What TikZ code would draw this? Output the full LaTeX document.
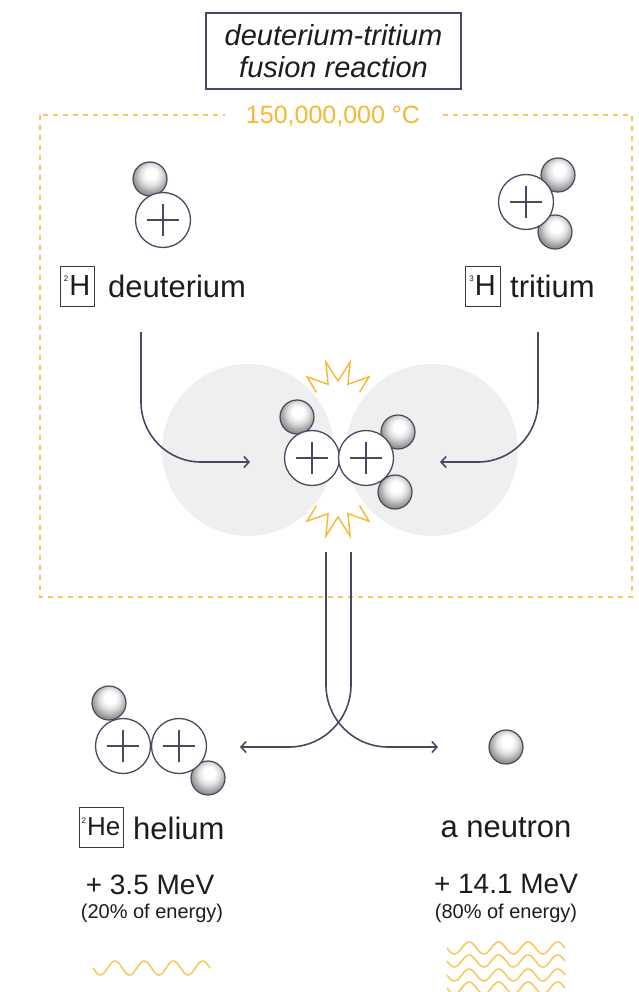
\documentclass[tikz,border=0pt]{standalone}
\usepackage{fontspec}
\setmainfont{Liberation Sans}
\usetikzlibrary{arrows.meta}

\definecolor{ink}{HTML}{454A5F}
\definecolor{boxline}{HTML}{3A3A3A}
\definecolor{heat}{HTML}{F7B733}
\definecolor{heatlight}{HTML}{F9C65A}
\definecolor{halo}{HTML}{EFEFEF}
\definecolor{txt}{HTML}{1C1C1C}

% shaded neutron: white cap towards the top, grey towards the bottom
\pgfdeclareradialshading{neutronball}{\pgfpoint{2bp}{9bp}}{%
  color(0bp)=(white); color(8bp)=(white); color(16bp)=(black!13);
  color(26bp)=(black!42); color(34bp)=(black!52); color(50bp)=(black!52)}

\tikzset{
  proton/.style={circle, draw=ink, line width=1.3pt, fill=white,
    minimum size=55pt, inner sep=0pt,
    path picture={\draw[ink, line width=1.1pt]
      ([xshift=-16pt]path picture bounding box.center) -- ([xshift=16pt]path picture bounding box.center)
      ([yshift=-16pt]path picture bounding box.center) -- ([yshift=16pt]path picture bounding box.center);}},
  neutron/.style={circle, draw=ink, line width=1.2pt, shade, shading=neutronball,
    minimum size=34pt, inner sep=0pt},
  flow/.style={draw=ink, line width=1.6pt, -{Straight Barb[length=5pt,width=11pt]}},
  frame/.style={draw=heatlight, line width=1.5pt, dash pattern=on 5pt off 5pt},
  burst/.style={draw=heat, line width=1.4pt, line join=miter},
  wave/.style={draw=heatlight, line width=1.5pt},
  elembox/.style={draw=boxline, line width=1pt, minimum height=40pt, inner sep=0pt,
    text=txt, font=\fontsize{29}{30}\selectfont},
  partname/.style={anchor=base west, text=txt, inner sep=0pt, font=\fontsize{31}{36}\selectfont},
  energy/.style={anchor=base, text=txt, inner sep=0pt, font=\fontsize{28}{32}\selectfont},
  share/.style={anchor=base, text=txt, inner sep=0pt, font=\fontsize{20}{24}\selectfont},
}

\begin{document}
\begin{tikzpicture}[x=1pt, y=-1pt]
\useasboundingbox (0,0) rectangle (639,992);

% title
\node[draw=ink, line width=1.4pt, minimum width=255pt, minimum height=76pt,
      align=center, text=txt, font=\fontsize{29}{32}\selectfont\itshape]
      (title) at (333.5,51) {deuterium-tritium\\fusion reaction};

% hot zone with its temperature
\draw[frame] (40,115) rectangle (632,597);
\node[anchor=base, fill=white, text=heat, inner xsep=21pt, inner ysep=3pt,
      font=\fontsize{25}{28}\selectfont] (temp) at (333,124) {150,000,000 °C};

% deuterium
\node[neutron] (dn) at (150,179) {};
\node[proton]  (dp) at (163,220) {};
\node[elembox, minimum width=34pt] (dbox) at (77,286)
  {\raisebox{14pt}{\fontsize{8}{8}\selectfont 2}\kern1pt H};
\node[partname] (dname) at (108,297) {deuterium};

% tritium
\node[neutron] (tn1) at (558,175) {};
\node[neutron] (tn2) at (555,232) {};
\node[proton]  (tp)  at (526,202) {};
\node[elembox, minimum width=35pt] (tbox) at (482.5,286)
  {\raisebox{14pt}{\fontsize{8}{8}\selectfont 3}\kern1pt H};
\node[partname] (tname) at (510,297) {tritium};

% collision halos
\fill[halo] (248,450) circle[radius=86];
\fill[halo] (432,450) circle[radius=86];

% incoming paths
\coordinate (dIn)  at (141,332);
\coordinate (dTip) at (250,462);
\coordinate (tIn)  at (538,332);
\coordinate (tTip) at (440,462);
\draw[flow, rounded corners=60pt] (dIn) |- (dTip);
\draw[flow, rounded corners=60pt] (tIn) |- (tTip);

% bursts above and below the fusing nuclei
\draw[burst] (316.5,392.4) -- (307.0,376.8) -- (328.1,384.4) -- (325.9,362.0) -- (338,381)
  -- (350.1,362.0) -- (347.9,384.4) -- (369.0,376.8) -- (359.5,392.4);
\draw[burst] (316.5,505.6) -- (307.0,521.2) -- (328.1,513.6) -- (325.9,536.0) -- (338,517)
  -- (350.1,536.0) -- (347.9,513.6) -- (369.0,521.2) -- (359.5,505.6);

% fusing nuclei
\node[neutron] (cn1) at (297,417) {};
\node[neutron] (cn2) at (398,432) {};
\node[neutron] (cn3) at (395,492) {};
\node[proton]  (cp1) at (312,458) {};
\node[proton]  (cp2) at (366,458) {};

% outgoing paths
\coordinate (oA)  at (326,552);
\coordinate (oB)  at (351,552);
\coordinate (nTip)  at (438,747);
\coordinate (heTip) at (240,747);
\draw[flow, rounded corners=62pt] (oA) |- (nTip);
\draw[flow, rounded corners=62pt] (oB) |- (heTip);

% helium
\node[neutron] (hn1) at (109,703) {};
\node[neutron] (hn2) at (208,778) {};
\node[proton]  (hp1) at (123,746) {};
\node[proton]  (hp2) at (179,746) {};
\node[elembox, minimum width=44pt, font=\fontsize{26}{28}\selectfont] (hebox) at (101,827)
  {\raisebox{12pt}{\fontsize{8}{8}\selectfont 2}\kern1pt He};
\node[partname] (hename) at (133,839) {helium};
\node[energy] (heE) at (150,894) {+ 3.5 MeV};
\node[share]  (heS) at (152,918) {(20\% of energy)};
\draw[wave] plot[domain=93:210, samples=120, smooth] (\x, {968+7*sin(12.3077*(\x-93))});

% neutron
\node[neutron] (nn) at (506,747) {};
\node[partname, anchor=base] (nname) at (506,837) {a neutron};
\node[energy] (nE) at (506,893) {+ 14.1 MeV};
\node[share]  (nS) at (506,918) {(80\% of energy)};
\foreach \rowy in {948,961,975,988}
  \draw[wave] plot[domain=447:565, samples=120, smooth] (\x, {\rowy+6*sin(12.2034*(\x-447))});
\end{tikzpicture}
\end{document}
